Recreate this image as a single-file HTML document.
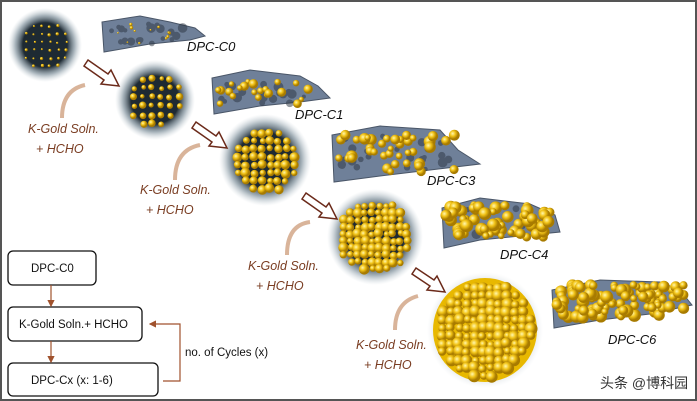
<!DOCTYPE html>
<html><head><meta charset="utf-8"><style>
body{margin:0;background:#fff}
svg{display:block}
.lab{font-family:"Liberation Sans",sans-serif;font-style:italic;font-size:13px;fill:#111}
.kg{font-family:"Liberation Sans",sans-serif;font-style:italic;font-size:12.5px;fill:#7a3d22}
.bx{font-family:"Liberation Sans",sans-serif;font-size:11.5px;fill:#111}
</style></head><body>
<svg id="s" width="697" height="401" viewBox="0 0 697 401" xmlns="http://www.w3.org/2000/svg">
<defs>
<radialGradient id="halo"><stop offset="0.6" stop-color="#1e2a33"/><stop offset="0.8" stop-color="#6b7f8c" stop-opacity="0.6"/><stop offset="1" stop-color="#b8c6cf" stop-opacity="0"/></radialGradient>
<radialGradient id="gold" cx="0.35" cy="0.35"><stop offset="0" stop-color="#fff7b0"/><stop offset="0.5" stop-color="#f2c418"/><stop offset="1" stop-color="#a87b00"/></radialGradient>
<marker id="ah" markerWidth="6" markerHeight="6" refX="5" refY="3" orient="auto"><path d="M0,0L6,3L0,6z" fill="#a0522d"/></marker>
</defs>
<rect x="1" y="1" width="695" height="399" fill="#fff" stroke="#555" stroke-width="2"/>
<g fill="#6f8099" stroke="#4a5668" stroke-width="1">
<path d="M102,22 L140,16 L170,22 L195,28 L205,36 L190,40 L150,44 L104,52 Z"/>
<path d="M212,78 L250,70 L300,76 L318,86 L330,98 L300,102 L260,106 L214,114 Z"/>
<path d="M332,135 L380,126 L440,130 L458,150 L480,164 L430,170 L380,176 L334,182 Z"/>
<path d="M442,208 L480,198 L530,204 L555,215 L560,232 L520,236 L480,240 L444,248 Z"/>
<path d="M552,290 L600,280 L660,282 L680,290 L692,305 L650,314 L600,320 L554,328 Z"/>
</g>
<g id="sheetdark" fill="#2a3340" opacity="0.5"></g>
<g id="spheres">
<circle cx="45" cy="45" r="37" fill="url(#halo)"/>
<circle cx="155" cy="100" r="40" fill="url(#halo)"/>
<circle cx="265" cy="160" r="46" fill="url(#halo)"/>
<circle cx="375" cy="237" r="48" fill="url(#halo)"/>
<circle cx="485" cy="330" r="58" fill="url(#halo)" opacity="0.5"/>
<circle cx="485" cy="330" r="52" fill="#e8b800"/>
</g>
<g id="dots"></g>
<g fill="#fff" stroke="#6b2a1a" stroke-width="1.5">
<path d="M88,60 L108,74 L111,70 L119,86 L101,84 L104,80 L84,66 Z"/>
<path d="M196,122 L216,136 L219,132 L227,148 L209,146 L212,142 L192,128 Z"/>
<path d="M306,193 L326,207 L329,203 L337,219 L319,217 L322,213 L302,199 Z"/>
<path d="M416,268 L434,280 L437,276 L445,292 L427,290 L430,286 L412,274 Z"/>
</g>
<g fill="none" stroke="#d9b49a" stroke-width="4">
<path d="M62,118 Q62,90 85,85"/><path d="M175,180 Q175,150 200,145"/><path d="M287,255 Q287,225 310,222"/><path d="M395,330 Q395,302 418,296"/>
</g>
<text class="lab" x="187" y="51">DPC-C0</text>
<text class="lab" x="295" y="119">DPC-C1</text>
<text class="lab" x="427" y="185">DPC-C3</text>
<text class="lab" x="500" y="259">DPC-C4</text>
<text class="lab" x="608" y="344">DPC-C6</text>
<text class="kg" x="28" y="133">K-Gold Soln.</text><text class="kg" x="36" y="153">+ HCHO</text>
<text class="kg" x="140" y="194">K-Gold Soln.</text><text class="kg" x="146" y="214">+ HCHO</text>
<text class="kg" x="248" y="270">K-Gold Soln.</text><text class="kg" x="256" y="290">+ HCHO</text>
<text class="kg" x="356" y="349">K-Gold Soln.</text><text class="kg" x="364" y="369">+ HCHO</text>
<g fill="#fff" stroke="#111" stroke-width="1.3">
<rect x="8" y="251" width="88" height="34" rx="5"/>
<rect x="8" y="307" width="134" height="34" rx="5"/>
<rect x="8" y="363" width="150" height="33" rx="5"/>
</g>
<text class="bx" x="31" y="272">DPC-C0</text>
<text class="bx" x="19" y="328">K-Gold Soln.+ HCHO</text>
<text class="bx" x="31" y="384">DPC-Cx (x: 1-6)</text>
<text class="bx" x="185" y="356">no. of Cycles (x)</text>
<g stroke="#a0522d" stroke-width="1.2" fill="none">
<line x1="51" y1="285" x2="51" y2="306" marker-end="url(#ah)"/>
<line x1="51" y1="341" x2="51" y2="362" marker-end="url(#ah)"/>
<path d="M163,381 L180,381 L180,324 L150,324" marker-end="url(#ah)"/>
</g>
<text x="600" y="388" font-family="Liberation Sans,'Noto Sans CJK SC',sans-serif" font-size="14" fill="#333">头条 @博科园</text>
</svg>
<script>
var g=document.getElementById('dots'),sd=document.getElementById('sheetdark'),ns="http://www.w3.org/2000/svg";
function rnd(s){return function(){s=(s*9301+49297)%233280;return s/233280;}}
var r=rnd(7);
function circ(p,x,y,rr,f){var c=document.createElementNS(ns,'circle');c.setAttribute('cx',x);c.setAttribute('cy',y);c.setAttribute('r',rr);if(f)c.setAttribute('fill',f);p.appendChild(c);}
function dot(x,y,rr){circ(g,x,y,rr,'url(#gold)');}
function sph(cx,cy,R,step,dr){for(var y=-R;y<=R;y+=step)for(var x=-R;x<=R;x+=step){if(x*x+y*y<(R-2)*(R-2))dot(cx+x+(r()-0.5)*2,cy+y+(r()-0.5)*2,dr*(0.7+r()*0.5));}}
sph(45,45,27,8,1.4);sph(155,100,30,9,3.2);sph(265,160,35,8,4.3);sph(375,237,38,7,4.5);sph(485,330,50,8,5.5);
function dark(x0,x1,y0,y1,n){for(var i=0;i<n;i++)circ(sd,x0+r()*(x1-x0),y0+r()*(y1-y0),2+r()*3);}
dark(110,190,24,44,20);dark(220,310,82,104,20);dark(340,450,136,172,25);dark(450,545,208,236,12);
function sheet(x0,x1,y0,y1,n,dr){for(var i=0;i<n;i++)dot(x0+r()*(x1-x0),y0+r()*(y1-y0),dr*(0.6+r()*0.6));}
sheet(108,195,24,44,12,1.5);sheet(218,315,80,104,22,4);sheet(338,455,134,172,40,5);sheet(446,550,205,238,65,5.5);sheet(556,685,285,318,100,5.5);
</script>
</body></html>
